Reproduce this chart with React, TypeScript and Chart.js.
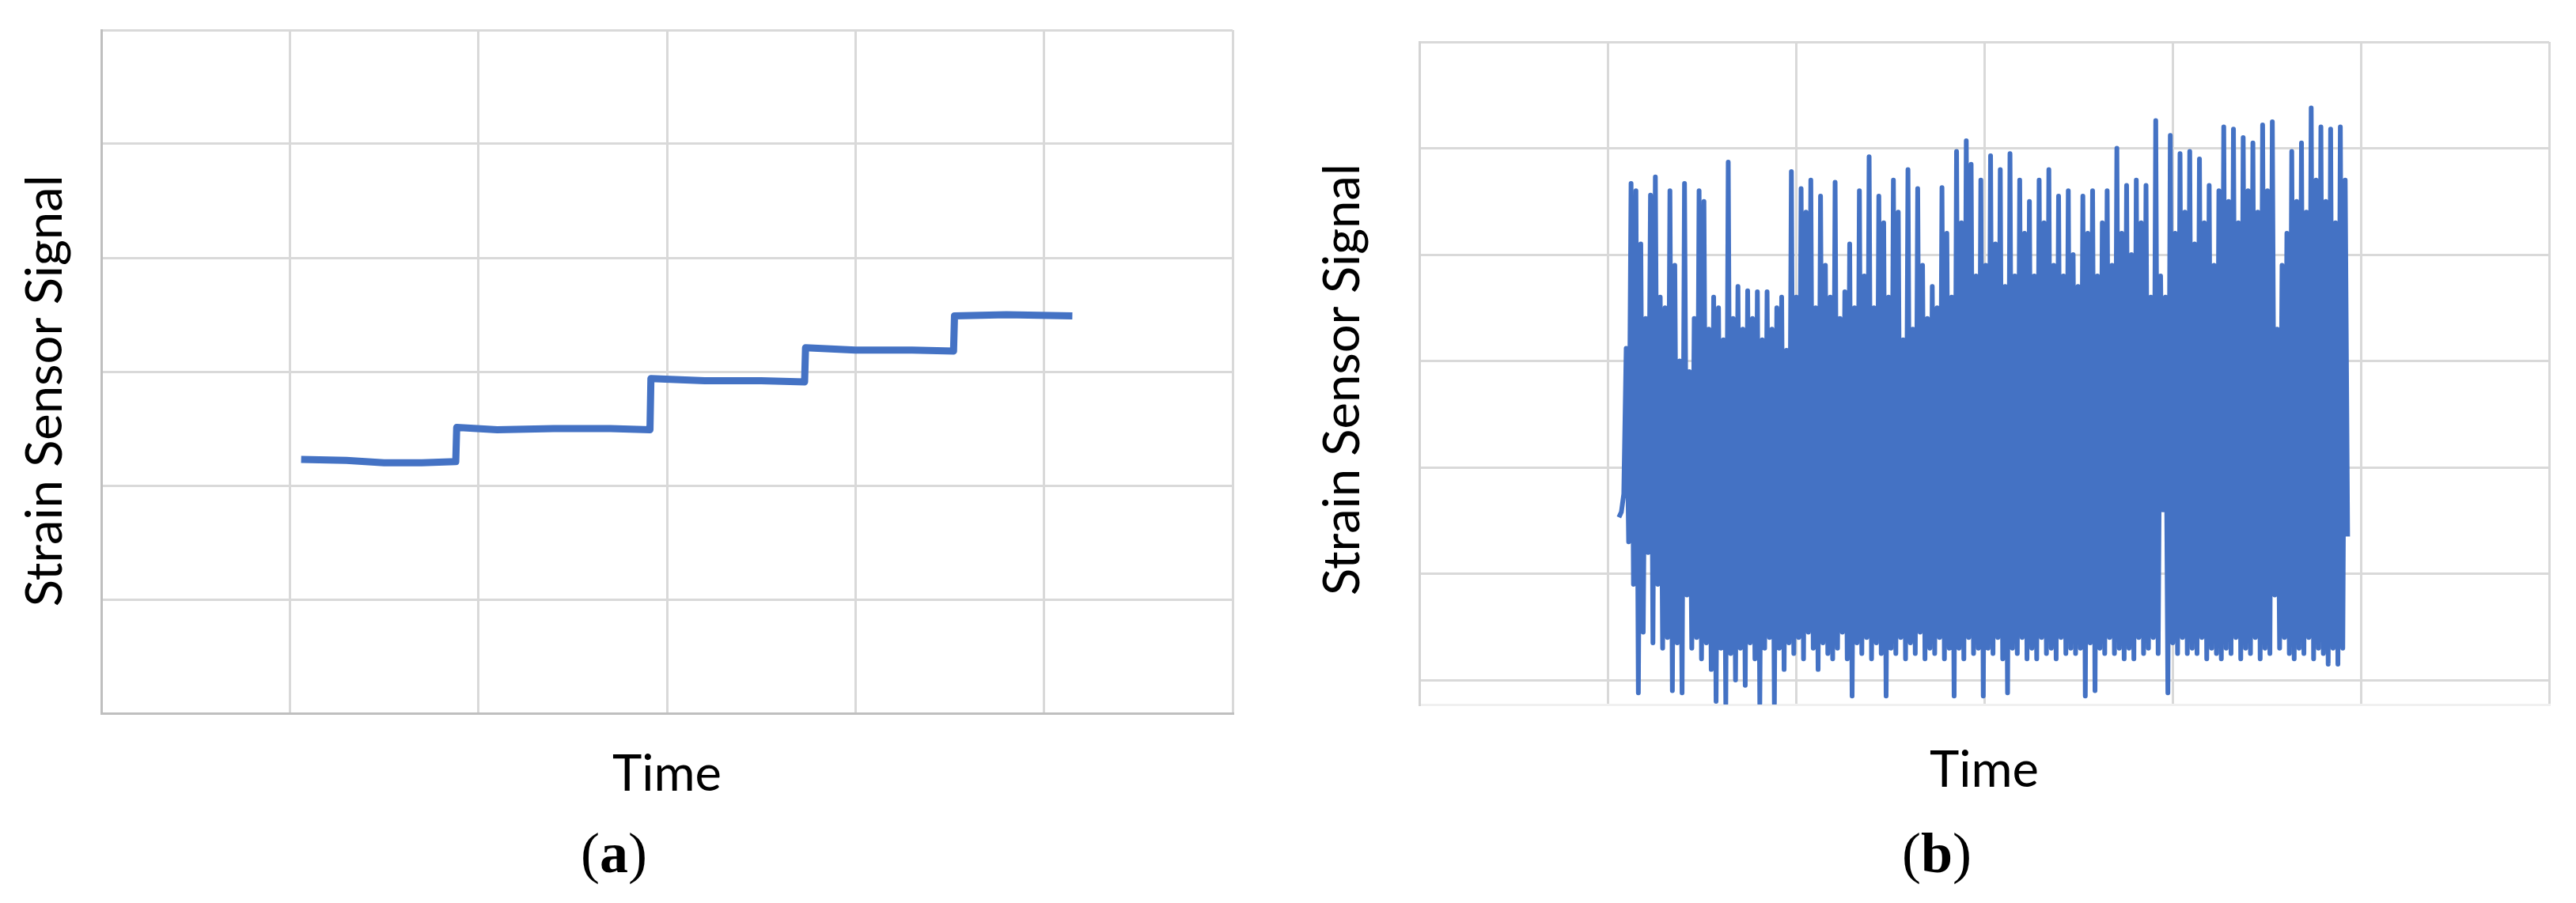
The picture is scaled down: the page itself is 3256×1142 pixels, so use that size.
import React, { useEffect, useRef } from "react";
import { Chart, registerables } from "chart.js";

Chart.register(...registerables);

// ---------- text ----------
const Y_TITLE = "Strain Sensor Signal";
const X_TITLE = "Time";
const PANEL_LABELS = ["a", "b"];

// ---------- axes (unitless, 6 gridline intervals) ----------
const X_MIN = 0;
const X_MAX = 6;
const Y_MIN_A = 0;
const Y_MAX_A = 6;
const Y_MIN_B = -0.23;
const Y_MAX_B = 6;

// ---------- panel (a): stepped strain signal ----------
const stepTime = [
  1.06, 1.3, 1.5, 1.7, 1.88, 1.885, 2.1, 2.4, 2.7, 2.91, 2.915, 3.2, 3.5, 3.73, 3.735, 4.0, 4.3, 4.52, 4.525, 4.8,
  5.15,
];
const stepSignal = [
  2.23, 2.22, 2.2, 2.2, 2.21, 2.51, 2.49, 2.5, 2.5, 2.49, 2.94, 2.92, 2.92, 2.91, 3.21, 3.19, 3.19, 3.18, 3.49, 3.5,
  3.49,
];

// ---------- panel (b): noisy strain signal (uniformly sampled) ----------
const noisyStart = 1.06;
const noisyEnd = 4.93;
const noisySignal = [
  1.53, 1.58, 1.75, 3.12, 1.3, 4.67, 0.9, 4.6, -0.12, 4.1,
  0.45, 3.4, 1.2, 4.56, 0.35, 4.73, 0.9, 3.6, 0.3, 3.5,
  0.4, 4.6, -0.1, 3.9, 0.35, 3.0, -0.12, 4.67, 0.8, 2.9,
  0.3, 3.4, 0.4, 4.6, 0.2, 4.5, 0.35, 3.3, 0.1, 3.6,
  -0.2, 3.5, 0.3, 3.2, -0.22, 4.87, 0.25, 3.4, 0.0, 3.7,
  0.3, 3.3, -0.05, 3.66, 0.35, 3.4, 0.2, 3.65, -0.22, 3.2,
  0.3, 3.65, 0.4, 3.3, -0.22, 3.5, 0.3, 3.6, 0.1, 3.1,
  0.35, 4.78, 0.25, 3.6, 0.4, 4.62, 0.2, 4.4, 0.45, 4.7,
  0.3, 3.5, 0.1, 4.55, 0.35, 3.9, 0.25, 3.6, 0.2, 4.68,
  0.3, 3.4, 0.45, 3.65, 0.2, 4.1, -0.15, 3.5, 0.35, 4.6,
  0.25, 3.8, 0.4, 4.92, 0.2, 3.5, 0.35, 4.55, 0.25, 4.3,
  -0.15, 3.6, 0.3, 4.7, 0.25, 4.4, 0.4, 3.2, 0.2, 4.8,
  0.35, 3.3, 0.25, 4.62, 0.45, 3.9, 0.2, 3.4, 0.3, 3.7,
  0.25, 3.5, 0.4, 4.63, 0.2, 4.2, 0.3, 3.6, -0.15, 4.97,
  0.3, 4.3, 0.2, 5.07, 0.4, 4.85, 0.25, 3.8, 0.3, 4.7,
  -0.15, 3.9, 0.3, 4.93, 0.25, 4.1, 0.4, 4.8, 0.2, 3.7,
  -0.12, 4.95, 0.3, 3.8, 0.25, 4.7, 0.4, 4.2, 0.2, 4.5,
  0.3, 3.8, 0.2, 4.7, 0.4, 4.3, 0.25, 4.8, 0.3, 3.9,
  0.2, 4.55, 0.4, 3.8, 0.25, 4.6, 0.3, 4.0, 0.25, 3.7,
  0.3, 4.55, -0.15, 4.2, 0.35, 4.6, -0.1, 3.8, 0.3, 4.3,
  0.25, 4.6, 0.4, 3.9, 0.25, 5.0, 0.3, 4.2, 0.2, 4.65,
  0.3, 4.0, 0.2, 4.7, 0.4, 4.3, 0.25, 4.65, 0.3, 3.6,
  0.4, 5.26, 0.25, 3.8, 1.6, 3.6, -0.12, 5.12, 0.35, 4.2,
  0.25, 4.95, 0.4, 4.4, 0.25, 4.97, 0.3, 4.1, 0.25, 4.9,
  0.4, 4.3, 0.2, 4.65, 0.3, 3.9, 0.25, 4.6, 0.2, 5.2,
  0.3, 4.5, 0.25, 5.18, 0.4, 4.3, 0.2, 5.1, 0.3, 4.6,
  0.25, 5.05, 0.4, 4.4, 0.2, 5.22, 0.3, 4.6, 0.25, 5.25,
  0.8, 3.3, 0.3, 3.9, 0.4, 4.2, 0.25, 4.97, 0.2, 4.5,
  0.3, 5.05, 0.25, 4.4, 0.4, 5.38, 0.2, 4.7, 0.3, 5.2,
  0.25, 4.5, 0.15, 5.18, 0.3, 4.3, 0.15, 5.2, 0.3, 4.7, 1.35,
];
const noisyTime = noisySignal.map(
  (_, i) => noisyStart + (i * (noisyEnd - noisyStart)) / (noisySignal.length - 1)
);

// ---------- styles ----------
const LINE_COLOR = "#4472C4";
const GRID_COLOR = "#d9d9d9";
const SANS = "Lato, 'Open Sans', sans-serif";
const SERIF = "'Liberation Serif', 'DejaVu Serif', serif";

function measure(text: string, font: string): number {
  const ctx = document.createElement("canvas").getContext("2d");
  if (!ctx) return 0;
  ctx.font = font;
  return ctx.measureText(text).width;
}

function fitFontSize(text: string, family: string, target: number): number {
  const w = measure(text, `100px ${family}`);
  return w > 0 ? (100 * target) / w : 60;
}

// Trailing spaces move a centred, rotated title toward the bottom of the axis.
function shiftedTitle(text: string, shiftDown: number, size: number): string {
  const sp = measure(" ", `${size}px ${SANS}`) || size * 0.2;
  const n = Math.max(0, Math.round((2 * shiftDown) / sp));
  return text + " ".repeat(n);
}

type Area = { left: number; top: number; right: number; bottom: number };

type PanelProps = {
  left: number;
  width: number;
  height: number;
  area: Area;
  yTitleMidX: number;
  yTitleShift: number;
  xTitleMidY: number;
  xs: number[];
  ys: number[];
  yMin: number;
  yMax: number;
  leftBorder: string;
  bottomBorder: string;
  lineWidth: number;
};

function Panel(p: PanelProps) {
  const ref = useRef<HTMLCanvasElement | null>(null);
  useEffect(() => {
    if (!ref.current) return;
    const s = fitFontSize(Y_TITLE, SANS, 546);
    const yPt = p.yTitleMidX - s / 2;
    const yPb = p.area.left - s - yPt;
    const xPt = p.xTitleMidY - p.area.bottom - s / 2;
    const xPb = 6;
    const font = { family: SANS, size: s, lineHeight: 1 };
    const chart = new Chart(ref.current, {
      type: "line",
      data: {
        datasets: [
          {
            data: p.xs.map((x, i) => ({ x, y: p.ys[i] })),
            borderColor: LINE_COLOR,
            borderWidth: p.lineWidth,
            pointRadius: 0,
            tension: 0,
            fill: false,
            borderJoinStyle: "round",
          },
        ],
      },
      options: {
        animation: false,
        responsive: false,
        devicePixelRatio: 1,
        events: [],
        layout: {
          padding: {
            left: 0,
            top: p.area.top,
            right: p.width - p.area.right,
            bottom: p.height - p.area.bottom - (s + xPt + xPb),
          },
        },
        plugins: { legend: { display: false }, tooltip: { enabled: false } },
        scales: {
          x: {
            type: "linear",
            min: X_MIN,
            max: X_MAX,
            ticks: { display: false, stepSize: 1, includeBounds: false },
            grid: { color: GRID_COLOR, lineWidth: 3, drawTicks: false },
            border: { display: true, color: p.bottomBorder, width: 3 },
            title: {
              display: true,
              text: X_TITLE,
              color: "#000",
              font,
              padding: { top: xPt, bottom: xPb },
            },
          },
          y: {
            type: "linear",
            min: p.yMin,
            max: p.yMax,
            ticks: { display: false, stepSize: 1, includeBounds: false },
            grid: { color: GRID_COLOR, lineWidth: 3, drawTicks: false },
            border: { display: true, color: p.leftBorder, width: 3 },
            title: {
              display: true,
              text: shiftedTitle(Y_TITLE, p.yTitleShift, s),
              color: "#000",
              font,
              padding: { top: yPt, bottom: yPb },
            },
          },
        },
      },
    });
    return () => chart.destroy();
  }, []);
  return (
    <canvas
      ref={ref}
      width={p.width}
      height={p.height}
      style={{ position: "absolute", left: p.left, top: 0, width: p.width, height: p.height }}
    />
  );
}

function PanelLabel({ letter, centerX }: { letter: string; centerX: number }) {
  return (
    <div
      style={{
        position: "absolute",
        left: centerX - 100,
        width: 200,
        top: 1043,
        textAlign: "center",
        fontFamily: SERIF,
        fontSize: 72,
        lineHeight: "72px",
        color: "#000",
      }}
    >
      (<span style={{ fontWeight: "bold" }}>{letter}</span>)
    </div>
  );
}

export default function App() {
  return (
    <div
      style={{
        position: "fixed",
        left: 0,
        top: 0,
        width: 3256,
        height: 1142,
        background: "#fff",
        overflow: "hidden",
      }}
    >
      <Panel
        left={0}
        width={1640}
        height={1142}
        area={{ left: 128, top: 38, right: 1558, bottom: 902 }}
        yTitleMidX={58}
        yTitleShift={26}
        xTitleMidY={980}
        xs={stepTime}
        ys={stepSignal}
        yMin={Y_MIN_A}
        yMax={Y_MAX_A}
        leftBorder="#bfbfbf"
        bottomBorder="#bfbfbf"
        lineWidth={9}
      />
      <Panel
        left={1640}
        width={1616}
        height={1142}
        area={{ left: 154, top: 53, right: 1582, bottom: 891 }}
        yTitleMidX={58}
        yTitleShift={10}
        xTitleMidY={975}
        xs={noisyTime}
        ys={noisySignal}
        yMin={Y_MIN_B}
        yMax={Y_MAX_B}
        leftBorder="#d4d4d4"
        bottomBorder="#f0f0f0"
        lineWidth={6}
      />
      <PanelLabel letter={PANEL_LABELS[0]} centerX={776} />
      <PanelLabel letter={PANEL_LABELS[1]} centerX={2448} />
    </div>
  );
}
